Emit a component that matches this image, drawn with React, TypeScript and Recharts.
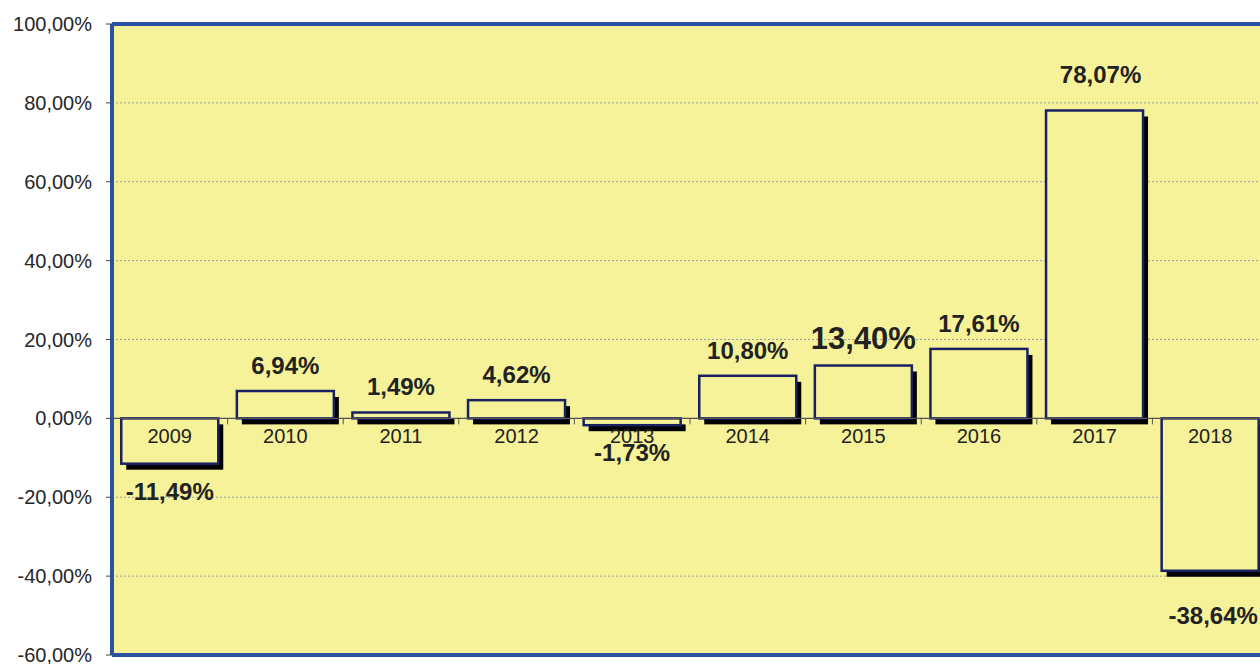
import React from 'react';
import { BarChart, Bar, XAxis, YAxis, CartesianGrid, ReferenceLine, LabelList } from 'recharts';

const years = ['2009', '2010', '2011', '2012', '2013', '2014', '2015', '2016', '2017', '2018'];
const returns = [-11.49, 6.94, 1.49, 4.62, -1.73, 10.8, 13.4, 17.61, 78.07, -38.64];
const yTicks = [-60, -40, -20, 0, 20, 40, 60, 80, 100];

const data = years.map((year, i) => ({ year, value: returns[i] }));

const FONT = '"Liberation Sans", Arial, Helvetica, sans-serif';
const BG = '#F6F29A';
const BORDER = '#2A52A2';
const BAR_STROKE = '#1A2163';
const TEXT = '#222222';
const GAP = 0.08; // barCategoryGap fraction per side

const HIGHLIGHT_YEAR = '2015';
const labelAdjust: Record<string, { dx: number; dy: number }> = {
  '2017': { dx: 6, dy: -10 },
  '2018': { dx: 3, dy: 17 },
};

const fmt = (v: number) => v.toFixed(2).replace('.', ',') + '%';

const box = (p: any) => {
  const vb = p.viewBox && p.viewBox.width !== undefined ? p.viewBox : p;
  const x = Number(vb.x);
  const y = Number(vb.y);
  const w = Number(vb.width);
  const h = Number(vb.height);
  return { x, w, top: Math.min(y, y + h), bottom: Math.max(y, y + h) };
};

const renderBar = (props: any) => {
  const { x, y, width, height, index } = props;
  const v = returns[index];
  const top = Math.min(y, y + height);
  const h = Math.abs(height);
  const zero = v >= 0 ? top + h : top;
  const boundary = x - (width * GAP) / (1 - 2 * GAP);
  return (
    <g>
      <rect x={x + 5} y={top + 6} width={width} height={h} fill="#000" />
      <rect x={x} y={top} width={width} height={h} fill={BG} stroke={BAR_STROKE} strokeWidth={2.5} />
      {index > 0 && <line x1={boundary} x2={boundary} y1={zero} y2={zero + 6} stroke="#555" strokeWidth={1} />}
    </g>
  );
};

const renderYear = (props: any) => {
  const { index } = props;
  const b = box(props);
  const v = returns[index];
  const zero = v >= 0 ? b.bottom : b.top;
  return (
    <text x={b.x + b.w / 2} y={zero + 25} textAnchor="middle" fontSize={20} fontFamily={FONT} fill={TEXT}>
      {years[index]}
    </text>
  );
};

const renderValue = (props: any) => {
  const { index } = props;
  const b = box(props);
  const v = returns[index];
  const year = years[index];
  const adj = labelAdjust[year] || { dx: 0, dy: 0 };
  const big = year === HIGHLIGHT_YEAR;
  const baseY = v >= 0 ? b.top - 17 : b.bottom + 36;
  return (
    <text
      x={b.x + b.w / 2 + adj.dx}
      y={baseY + adj.dy}
      textAnchor="middle"
      fontSize={big ? 31 : 24}
      fontWeight="bold"
      fontFamily={FONT}
      fill={TEXT}
    >
      {fmt(v)}
    </text>
  );
};

export default function App() {
  return (
    <div style={{ position: 'fixed', left: 0, top: 0, width: 1260, height: 664, overflow: 'hidden', background: '#fff' }}>
      <BarChart
        width={1270}
        height={664}
        data={data}
        margin={{ top: 24, right: 2, bottom: 9, left: 0 }}
        barCategoryGap="8%"
      >
        <CartesianGrid vertical={false} fill={BG} fillOpacity={1} stroke="#8D9DAE" strokeDasharray="2 2" />
        <XAxis dataKey="year" hide />
        <YAxis
          domain={[-60, 100]}
          ticks={yTicks}
          width={112}
          interval={0}
          allowDataOverflow
          axisLine={{ stroke: BORDER, strokeWidth: 4 }}
          tickLine={{ stroke: '#444' }}
          tickSize={6}
          tickMargin={14}
          tick={{ fontSize: 20, fill: '#262626', fontFamily: FONT }}
          tickFormatter={fmt}
        />
        <ReferenceLine y={0} stroke="#555" strokeWidth={1.2} />
        <Bar dataKey="value" isAnimationActive={false} shape={renderBar}>
          <LabelList dataKey="year" content={renderYear} />
          <LabelList dataKey="value" content={renderValue} />
        </Bar>
        <ReferenceLine y={100} stroke={BORDER} strokeWidth={4} />
        <ReferenceLine y={-60} stroke={BORDER} strokeWidth={4} />
      </BarChart>
    </div>
  );
}
